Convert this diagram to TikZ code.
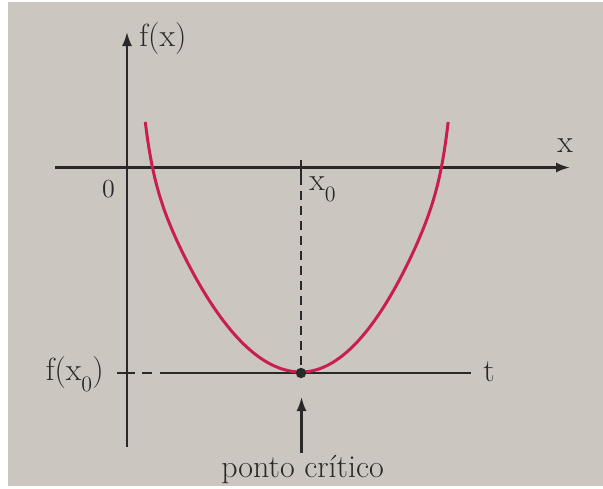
\documentclass[tikz,border=0pt]{standalone}
\usetikzlibrary{arrows.meta}
\definecolor{paper}{RGB}{203,199,192}
\definecolor{ink}{RGB}{42,40,40}
\definecolor{curvecol}{RGB}{200,30,80}
\begin{document}
\begin{tikzpicture}[x=0.5pt,y=-0.5pt,
  declare function={qq(\t)=((\t)/155.7)*((\t)/155.7);
    qf(\t)=qq(\t)*qq(\t);
    qs(\t)=qf(\t)*qf(\t)*qf(\t)*qf(\t);
    hfun(\t)=0.0085*(\t)*(\t)+44*qs(\t)*qf(\t);},
  axis/.style={draw=ink,line width=1.1pt},
  tip/.style={-{Latex[length=7pt,width=5pt]}},
  lbl/.style={text=ink,font=\fontsize{16}{18}\selectfont,inner sep=0pt},
  small/.style={text=ink,font=\fontsize{13}{14}\selectfont,inner sep=0pt},
  dashline/.style={draw=ink,line width=0.9pt,dash pattern=on 4.5pt off 3pt},
  curveline/.style={draw=curvecol,line width=1.5pt}]
\fill[white] (0,0) rectangle (603,488);
\fill[paper] (8,2) rectangle (603,486);
\useasboundingbox (0,0) rectangle (603,488);
% coordinates
\coordinate (ybot) at (127,447);
\coordinate (ytop) at (127,32);
\coordinate (xl) at (55,167.5);
\coordinate (xr) at (570,167.5);
\coordinate (P) at (301,373);
\coordinate (x0top) at (301,160);
\coordinate (x0mid) at (301,176);
\coordinate (tickl) at (117,373);
\coordinate (tickr) at (135,373);
\coordinate (tdl) at (142,373);
\coordinate (tdr) at (152,373);
\coordinate (tsl) at (160,373);
\coordinate (tr) at (471,373);
\coordinate (arrbot) at (301.5,453);
\coordinate (arrtop) at (301.5,397);
% axes
\draw[axis,tip] (ybot) -- (ytop);
\draw[axis,tip] (xl) -- (xr);
% x0 marker
\draw[axis] (x0top) -- (x0mid);
\draw[dashline] (x0mid) -- (P);
% tangent line
\draw[axis] (tickl) -- (tickr);
\draw[axis] (tdl) -- (tdr);
\draw[axis] (tsl) -- (tr);
% curve (both halves, u = distance from x0)
\draw[curveline]
  plot[smooth,samples=90,domain=155.7:0]
    ({301-\x},{372-hfun(\x)})
  -- plot[smooth,samples=90,domain=0:155.7]
    ({301+0.945*(\x)},{372-hfun(\x)});
% critical point
\fill[ink] (P) circle (2.6pt);
\draw[axis,tip] (arrbot) -- (arrtop);
% labels
\node[lbl,anchor=base west] (fx) at (139,46) {f(x)};
\node[lbl,anchor=base] (xlab) at (565,152) {x};
\node[small,anchor=base] (zero) at (108.5,197) {0};
\node[lbl,anchor=base west] (x0lab) at (309,190) {x\raisebox{-5.8pt}{\fontsize{11}{12}\selectfont 0}};
\node[lbl,anchor=base east] (fx0) at (104,380) {f(x\raisebox{-5.8pt}{\fontsize{11}{12}\selectfont 0})};
\node[lbl,anchor=base] (tlab) at (489,381.5) {t};
\node[lbl,anchor=base] (pc) at (302.5,477) {ponto crítico};
\end{tikzpicture}
\end{document}
